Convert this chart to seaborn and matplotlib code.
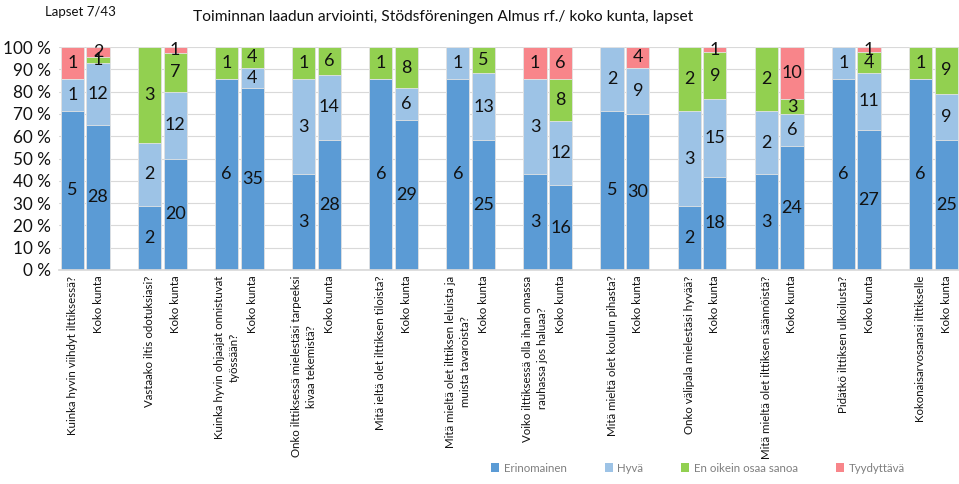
import numpy as np
import pandas as pd
import matplotlib
matplotlib.use("Agg")
import matplotlib.pyplot as plt
import seaborn as sns
from matplotlib.patches import Patch

sns.set_theme(style="white")
plt.rcParams['font.family'] = ['Lato', 'DejaVu Sans']

questions = [
    "Kuinka hyvin viihdyt ilttiksessä?",
    "Vastaako iltis odotuksiasi?",
    "Kuinka hyvin ohjaajat onnistuvat\ntyössään?",
    "Onko ilttiksessä mielestäsi tarpeeksi\nkivaa tekemistä?",
    "Mitä ieltä olet ilttiksen tiloista?",
    "Mitä mieltä olet ilttiksen leluista ja\nmuista tavaroista?",
    "Voiko ilttiksessä olla ihan omassa\nrauhassa jos haluaa?",
    "Mitä mieltä olet koulun pihasta?",
    "Onko välipala mielestäsi hyvää?",
    "Mitä mieltä olet ilttiksen säännöistä?",
    "Pidätkö ilttiksen ulkoilusta?",
    "Kokonaisarvosanasi ilttikselle",
]
compare_label = "Koko kunta"

series_names = ["Erinomainen", "Hyvä", "En oikein osaa sanoa", "Tyydyttävä"]
# pairs: (school, Koko kunta) for each question
erinomainen = [5, 28, 2, 20, 6, 35, 3, 28, 6, 29, 6, 25, 3, 16, 5, 30, 2, 18, 3, 24, 6, 27, 6, 25]
hyva        = [1, 12, 2, 12, 0, 4, 3, 14, 0, 6, 1, 13, 3, 12, 2, 9, 3, 15, 2, 6, 1, 11, 0, 9]
en_osaa     = [0, 1, 3, 7, 1, 4, 1, 6, 1, 8, 0, 5, 0, 8, 0, 0, 2, 9, 2, 3, 0, 4, 1, 9]
tyydyttava  = [1, 2, 0, 1, 0, 0, 0, 0, 0, 0, 0, 0, 1, 6, 0, 4, 0, 1, 0, 10, 0, 1, 0, 0]

colors = ["#5B9BD5", "#9DC3E6", "#92D050", "#F8858A"]

counts = np.array([erinomainen, hyva, en_osaa, tyydyttava], dtype=float)
totals = counts.sum(axis=0)
pct = counts / totals * 100
cum = np.cumsum(pct, axis=0)

n_bars = counts.shape[1]
pos = np.array([3 * (i // 2) + (i % 2) for i in range(n_bars)], dtype=float)

fig = plt.figure(figsize=(9.59, 4.84), dpi=100)
ax = fig.add_axes([59 / 959, 1 - 270 / 484, 900 / 959, 223 / 484])

for k in range(3, -1, -1):
    df = pd.DataFrame({"pos": pos, "val": cum[k]})
    sns.barplot(data=df, x="pos", y="val", native_scale=True, color=colors[k],
                saturation=1, width=0.9, edgecolor="#E4E4E4", linewidth=0.6,
                errorbar=None, ax=ax)

for i in range(n_bars):
    bottom = 0.0
    for k in range(4):
        h = pct[k, i]
        if counts[k, i] > 0:
            ax.text(pos[i], bottom + h / 2, f"{int(counts[k, i])}", ha="center",
                    va="center", fontsize=13, color="#111111")
        bottom += h

ax.set_xlim(-0.52, 34.5)
ax.set_ylim(0, 100)
ax.set_yticks(np.arange(0, 101, 10))
ax.set_yticklabels([f"{v} %" for v in range(0, 101, 10)], fontsize=12.3, color="#111111")
ax.tick_params(axis="y", length=0, pad=6)
ticklabels = []
for q in questions:
    ticklabels += [q, compare_label]
ax.set_xticks(pos)
ax.set_xticklabels(ticklabels, rotation=90, fontsize=8.3, color="#111111",
                   ha="center", va="top", multialignment="center", linespacing=1.45)
ax.tick_params(axis="x", length=0, pad=4)
ax.set_xlabel("")
ax.set_ylabel("")
ax.yaxis.grid(True, color="#D9D9D9", linewidth=0.8)
ax.set_axisbelow(True)
for s in ["top", "right", "left"]:
    ax.spines[s].set_visible(False)
ax.spines["bottom"].set_color("#D9D9D9")

fig.text(45 / 959, 1 - 12 / 484, "Lapset 7/43", fontsize=9.5, color="#111111",
         ha="left", va="center")
fig.text(193 / 959, 1 - 17 / 484,
         "Toiminnan laadun arviointi, Stödsföreningen Almus rf./ koko kunta, lapset",
         fontsize=11.2, color="#111111", ha="left", va="center")

handles = [Patch(facecolor=c, edgecolor="none") for c in colors]
leg = fig.legend(handles, series_names, loc="center", bbox_to_anchor=(698 / 959, 1 - 468 / 484),
                 ncol=4, frameon=False, fontsize=8.3, handlelength=0.7, handleheight=0.7,
                 handletextpad=0.4, columnspacing=3.3)
for t in leg.get_texts():
    t.set_color("#7F7F7F")

fig.savefig("out.png", dpi=100)
